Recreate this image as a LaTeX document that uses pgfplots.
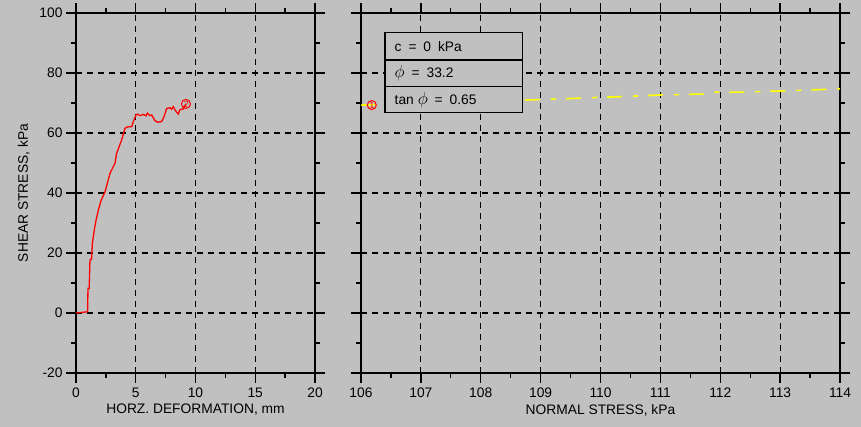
\documentclass[border=0pt]{standalone}
\usepackage{fontspec}
\setmainfont{Liberation Sans}
\usepackage{pgfplots}
\pgfplotsset{compat=1.18}
\definecolor{bg}{RGB}{192,192,192}
\definecolor{ylw}{RGB}{255,255,0}
\definecolor{rd}{RGB}{255,0,0}
\newcommand{\tf}{\fontsize{13.8}{15}\selectfont}
\newcommand{\sq}{\hspace{0.5em}}
\newcommand{\bphi}{{\fontsize{17}{17}\selectfont$\phi$}}
\pgfplotsset{
  geoaxis/.style={
    scale only axis,
    axis background/.style={fill=bg},
    axis line style={black, line width=1.6pt},
    tick align=outside,
    major tick length=10pt,
    minor tick length=5pt,
    every tick/.style={black, line width=1.3pt},
    grid=major,
    major grid style={black, line width=1.1pt, dash pattern=on 6pt off 5pt},
    ymin=-20, ymax=100,
    ytick={-20,0,20,40,60,80,100},
    minor ytick={-10,10,30,50,70,90},
    ticklabel style={font=\tf},
    label style={font=\tf},
    xticklabel style={yshift=-1pt},
    clip=false,
  }
}
\begin{document}
\begin{tikzpicture}[x=1pt,y=1pt]
\fill[bg] (0,0) rectangle (861,427);
% ---------------- left axis ----------------
\begin{axis}[geoaxis,
  at={(76pt,54pt)}, anchor=south west,
  width=239pt, height=360pt,
  xmin=0, xmax=20,
  xtick={0,5,10,15,20},
  minor xtick={2.5,7.5,12.5,17.5},
  xticklabels={0,5,10,15,20},
  yticklabels={-20,0,20,40,60,80,100},
  xlabel={HORZ. DEFORMATION, mm},
  ylabel={SHEAR STRESS, kPa},
  xlabel style={yshift=0pt},
  ylabel style={yshift=3pt},
]
\addplot[rd, line width=1.3pt] coordinates {
(0,0) (0.95,0.4) (0.98,1) (1.0,8.2) (1.1,8.2) (1.17,17.7) (1.3,17.9) (1.37,23.2)
(1.53,27.7) (1.65,30.4) (1.87,34.3) (2.1,37.5) (2.43,40.4) (2.85,46.6) (3.26,49.9)
(3.4,53.2) (3.82,57.7) (4.1,61.6) (4.38,62.1) (4.66,62.1) (4.8,63.8) (5.02,66)
(5.13,66.3) (5.36,65.8) (5.63,66.2) (5.86,65.7) (5.97,66.6) (6.19,65.8) (6.33,66)
(6.61,64.1) (6.84,63.6) (7.17,63.8) (7.36,65.4) (7.59,68.2) (7.87,68.4) (8.0,67.9)
(8.14,68.8) (8.28,67.7) (8.56,66.3) (8.7,67.8) (8.98,68) (9.2,69.7)
};
\addplot[rd, line width=1pt, only marks, mark=o, mark size=4.5pt,
  nodes near coords={\textcolor{rd}{\fontsize{9}{9}\selectfont\textit{2}}},
  every node near coord/.style={anchor=center}] coordinates {(9.2,69.7)};
\end{axis}
% ---------------- right axis ----------------
\begin{axis}[geoaxis,
  at={(361pt,54pt)}, anchor=south west,
  width=479pt, height=360pt,
  xmin=106, xmax=114,
  xtick={106,107,108,109,110,111,112,113,114},
  minor xtick={106.5,107.5,108.5,109.5,110.5,111.5,112.5,113.5},
  xticklabels={106,107,108,109,110,111,112,113,114},
  yticklabels={},
  xlabel={NORMAL STRESS, kPa},
  xlabel style={yshift=0pt},
]
\addplot[ylw, line width=1.6pt, dash pattern=on 15pt off 11pt on 5pt off 10pt] coordinates {
(106,69.3) (108.79,71.0) (109.66,71.6) (110.0,71.9) (110.33,72.1) (111.04,72.7)
(111.77,73.0) (111.83,73.6) (112.33,73.6) (113.16,74.1) (114,74.7)
};
\addplot[rd, line width=1pt, only marks, mark=o, mark size=4.5pt,
  nodes near coords={\textcolor{rd}{\fontsize{9}{9}\selectfont 1}},
  every node near coord/.style={anchor=center}] coordinates {(106.18,69.3)};
% parameter box
\draw[black, line width=1.4pt, fill=bg] (axis cs:106.40,66.8) rectangle (axis cs:108.70,93.4);
\draw[black, line width=1.4pt] (axis cs:106.40,84.3) -- (axis cs:108.70,84.3);
\draw[black, line width=1.4pt] (axis cs:106.40,75.4) -- (axis cs:108.70,75.4);
\node[anchor=west, font=\tf, inner sep=0pt] at (axis cs:106.56,88.9) {c\sq=\sq0\sq kPa};
\node[anchor=west, font=\tf, inner sep=0pt] at (axis cs:106.56,79.9) {\bphi\sq=\sq33.2};
\node[anchor=west, font=\tf, inner sep=0pt] at (axis cs:106.56,71.0) {tan \bphi\sq=\sq0.65};
\end{axis}
\end{tikzpicture}
\end{document}
